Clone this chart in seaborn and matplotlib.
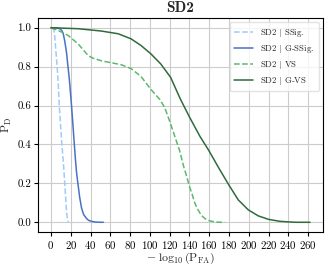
import matplotlib
matplotlib.use("Agg")
import matplotlib.pyplot as plt
import seaborn as sns
import pandas as pd

# ---- data ----
ssig_x = [1, 3, 4, 5, 6.4, 7.5, 8.4, 10, 11, 12.4, 13.3, 14.1, 15, 15.8, 16.6, 17.4]
ssig_y = [1.0, 0.99, 0.945, 0.88, 0.79, 0.70, 0.60, 0.48, 0.40, 0.32, 0.25, 0.19, 0.12, 0.05, 0.02, 0.0]

gssig_x = [0, 5, 9, 11, 12.4, 14, 15.8, 17, 18.5, 20, 20.8, 22.5, 24.8, 26, 27.5, 29,
           30.9, 33, 35.9, 38, 41, 45, 50, 53]
gssig_y = [1.0, 1.0, 0.995, 0.985, 0.97, 0.93, 0.87, 0.81, 0.74, 0.65, 0.60, 0.48, 0.32,
           0.25, 0.19, 0.13, 0.074, 0.04, 0.02, 0.01, 0.005, 0.001, 0.0, 0.0]

vs_x = [0, 7.4, 17.5, 27.5, 37.6, 42.7, 51, 61, 71, 81, 91, 100, 105, 110, 115, 120,
        124, 127, 130, 134, 137, 140, 143, 145.4, 148, 152, 156, 160.5, 166, 171, 175.6]
vs_y = [1.0, 0.986, 0.96, 0.917, 0.857, 0.843, 0.83, 0.82, 0.81, 0.79, 0.75, 0.69, 0.66,
        0.632, 0.59, 0.52, 0.46, 0.415, 0.37, 0.29, 0.24, 0.185, 0.14, 0.10, 0.07, 0.036,
        0.018, 0.007, 0.002, 0.0, 0.0]

gvs_x = [0, 27.5, 51, 68, 81, 91, 101, 111, 121, 131, 140.5, 150.5, 159.5, 170.5, 180,
         189.4, 199.5, 209.6, 220, 231.4, 240, 248, 262]
gvs_y = [1.0, 0.995, 0.983, 0.969, 0.943, 0.909, 0.866, 0.814, 0.745, 0.632, 0.537,
         0.443, 0.37, 0.272, 0.191, 0.115, 0.064, 0.033, 0.015, 0.005, 0.002, 0.0, 0.0]

labels = ["SD2 $|$ SSig.", "SD2 $|$ G-SSig.", "SD2 $|$ VS", "SD2 $|$ G-VS"]
colors = ["#9dcbfa", "#4a72c4", "#5cb870", "#2f6b3c"]
styles = ["--", "-", "--", "-"]

sns.set_theme(style="whitegrid")
plt.rcParams.update({
    "font.family": "serif",
    "font.serif": ["cmr10"],
    "mathtext.fontset": "cm",
    "axes.formatter.use_mathtext": True,
    "axes.edgecolor": "black",
    "axes.linewidth": 0.8,
    "grid.color": "#cccccc",
    "grid.linewidth": 0.8,
    "xtick.bottom": True,
    "ytick.left": True,
    "xtick.color": "black",
    "ytick.color": "black",
    "xtick.major.size": 3,
    "ytick.major.size": 3,
    "xtick.major.width": 0.8,
    "ytick.major.width": 0.8,
})

fig = plt.figure(figsize=(3.29, 2.68), dpi=100)
ax = fig.add_axes([0.1155, 0.1343, 0.8663, 0.7985])

series = [(ssig_x, ssig_y), (gssig_x, gssig_y), (vs_x, vs_y), (gvs_x, gvs_y)]
for (xs, ys), lab, c, ls in zip(series, labels, colors, styles):
    df = pd.DataFrame({"x": xs, "y": ys})
    sns.lineplot(data=df, x="x", y="y", ax=ax, color=c, linestyle=ls,
                 linewidth=1.1, label=lab, sort=False)

ax.set_xticks(range(0, 261, 20))
ax.set_yticks([0.0, 0.2, 0.4, 0.6, 0.8, 1.0])
ax.set_yticklabels(["0.0", "0.2", "0.4", "0.6", "0.8", "1.0"])
ax.tick_params(axis="both", labelsize=7.8, pad=2)
ax.set_xlabel(r"$-\;\log_{10}(\mathrm{P_{FA}})$", fontsize=8.5, labelpad=0)
ax.set_ylabel(r"$\mathrm{P_D}$", fontsize=8.5, labelpad=2)
ax.set_title("SD2", fontfamily="cmb10", fontsize=11, pad=4)
leg = ax.legend(loc="upper right", fontsize=6.3, frameon=True, handlelength=2.2,
                borderpad=0.5, labelspacing=0.45, fancybox=True)
leg.get_frame().set_edgecolor("#dddddd")
for s in ax.spines.values():
    s.set_color("black")

fig.savefig("out.png", dpi=100)
